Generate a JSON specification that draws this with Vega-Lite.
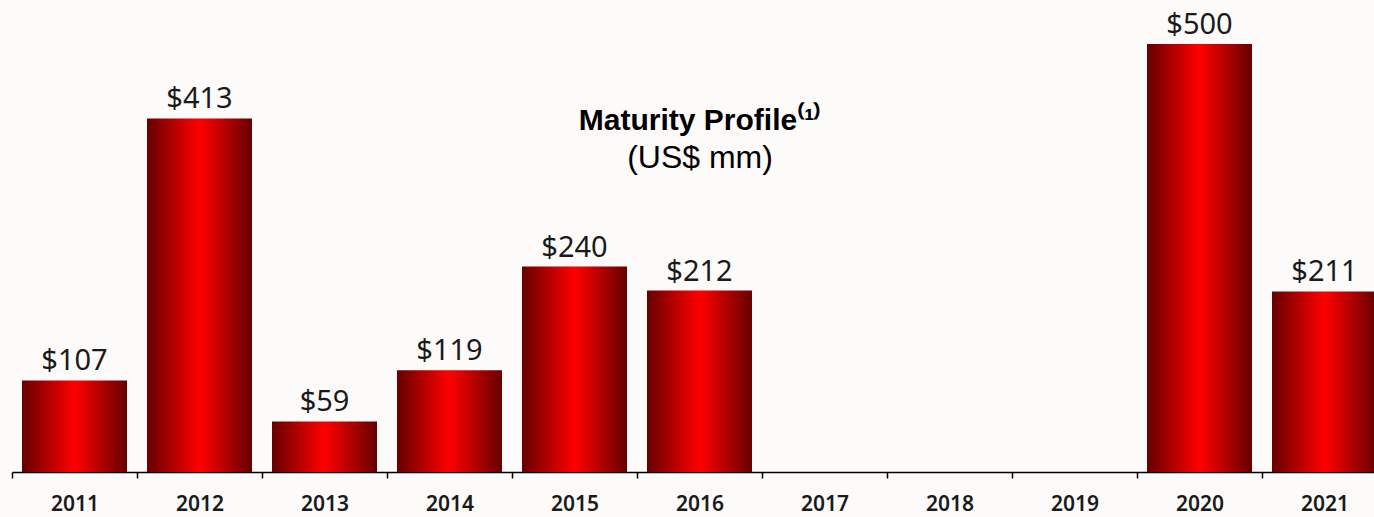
{
  "$schema": "https://vega.github.io/schema/vega-lite/v6.json",
  "width": 1362,
  "height": 472,
  "autosize": "none",
  "padding": {"left": 12, "top": 0, "right": 0, "bottom": 45},
  "background": "#fdfafa",
  "config": {"view": {"stroke": null}},
  "title": {
    "text": "Maturity Profile⁽¹⁾",
    "subtitle": "(US$ mm)",
    "anchor": "middle",
    "frame": "group",
    "offset": -174,
    "dx": 7,
    "font": "Liberation Sans",
    "fontSize": 30,
    "fontWeight": "bold",
    "color": "#000000",
    "subtitleFont": "Liberation Sans",
    "subtitleFontSize": 32,
    "subtitleColor": "#000000",
    "subtitlePadding": 7
  },
  "data": {
    "values": [
      {"year": "2011", "amount": 107},
      {"year": "2012", "amount": 413},
      {"year": "2013", "amount": 59},
      {"year": "2014", "amount": 119},
      {"year": "2015", "amount": 240},
      {"year": "2016", "amount": 212},
      {"year": "2020", "amount": 500},
      {"year": "2021", "amount": 211}
    ]
  },
  "encoding": {
    "x": {
      "field": "year",
      "type": "nominal",
      "sort": null,
      "scale": {
        "domain": ["2011","2012","2013","2014","2015","2016","2017","2018","2019","2020","2021"],
        "range": [0, 1375],
        "paddingInner": 0,
        "paddingOuter": 0
      },
      "axis": {
        "title": null,
        "labelAngle": 0,
        "tickBand": "extent",
        "domainColor": "#000000",
        "domainWidth": 1.5,
        "tickColor": "#000000",
        "tickWidth": 1.5,
        "tickSize": 6,
        "labelPadding": 15,
        "labelFont": "Noto Sans",
        "labelFontSize": 21,
        "labelFontWeight": 600,
        "labelColor": "#1a1a1a",
        "grid": false
      }
    },
    "y": {
      "field": "amount",
      "type": "quantitative",
      "scale": {"domain": [0, 551.4], "nice": false, "zero": true},
      "axis": null
    }
  },
  "layer": [
    {
      "mark": {
        "type": "bar",
        "width": {"band": 0.84},
        "color": {
          "gradient": "linear",
          "x1": 0, "y1": 0, "x2": 1, "y2": 0,
          "stops": [
            {"offset": 0, "color": "#660000"},
            {"offset": 0.5, "color": "#ff0000"},
            {"offset": 1, "color": "#660000"}
          ]
        }
      }
    },
    {
      "mark": {
        "type": "text",
        "baseline": "alphabetic",
        "dy": -10,
        "font": "Noto Sans",
        "fontSize": 29,
        "color": "#1a1a1a"
      },
      "encoding": {
        "text": {"field": "amount", "type": "quantitative", "format": "$d"}
      }
    }
  ]
}
